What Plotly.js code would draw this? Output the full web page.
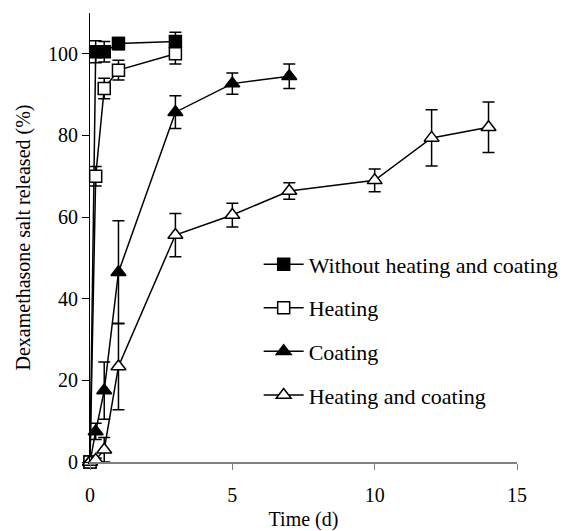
<!DOCTYPE html>
<html>
<head>
<meta charset="utf-8">
<script src="https://cdn.plot.ly/plotly-3.0.1.min.js"></script>
<style>html,body{margin:0;padding:0;background:#fff;}#chart{width:566px;height:531px;}</style>
</head>
<body>
<div id="chart"></div>
<script>
// Time points (days)
const tShort = [0, 0.2, 0.5, 1, 3];
const tCoat = [0, 0.2, 0.5, 1, 3, 5, 7];
const tHeatCoat = [0, 0.2, 0.5, 1, 3, 5, 7, 10, 12, 14];

// Release (%) and standard deviations
const noHeatVals = [0, 100.5, 100.5, 102.5, 103];
const noHeatErr  = [0, 2.7, 2.5, 1.5, 2.3];
const heatVals   = [0, 70, 91.5, 96, 100];
const heatErr    = [0, 2.4, 2.5, 2.4, 2.5];
const coatVals   = [0, 7.5, 17.5, 46.5, 85.7, 92.7, 94.5];
const coatErr    = [0, 2, 7, 12.6, 4, 2.6, 3];
const hcVals     = [0, 0.5, 3, 23.4, 55.6, 60.5, 66.4, 69, 79.4, 82];
const hcErr      = [0, 0.5, 3, 10.6, 5.3, 2.9, 2, 2.8, 6.9, 6.2];

const names = ['Without heating and coating', 'Heating', 'Coating', 'Heating and coating'];

const FONT = "'Liberation Serif', 'Times New Roman', serif";

function mk(x, y, e, name, symbol, fill, size, grp) {
  return {
    x: x, y: y, name: name, type: 'scatter', mode: 'lines+markers',
    legendgroup: grp,
    line: {color: '#000', width: 1.5},
    marker: {symbol: symbol, size: size, color: fill, line: {color: '#000', width: 1.5}},
    error_y: {type: 'data', array: e, visible: true, color: '#000', thickness: 1.5, width: 6},
    cliponaxis: false
  };
}

const data = [
  mk(tShort, noHeatVals, noHeatErr, names[0], 'square', '#000', 12, 'a'),
  mk(tShort, heatVals, heatErr, names[1], 'square', '#fff', 12, 'b'),
  mk(tCoat, coatVals, coatErr, names[2], 'triangle-up', '#000', 13, 'c'),
  mk(tHeatCoat, hcVals, hcErr, names[3], 'triangle-up', '#fff', 13, 'd')
];

const layout = {
  width: 566, height: 531,
  margin: {l: 90, r: 49, t: 13, b: 69, autoexpand: false},
  paper_bgcolor: '#fff', plot_bgcolor: '#fff',
  font: {family: FONT, size: 20, color: '#000'},
  showlegend: true,
  legend: {
    x: 0.395, y: 0.487, xanchor: 'left', yanchor: 'top',
    font: {family: FONT, size: 22, color: '#000'},
    tracegroupgap: 12, itemwidth: 40,
    bgcolor: 'rgba(0,0,0,0)'
  },
  xaxis: {
    range: [0, 15], tickvals: [0, 5, 10, 15], ticktext: ['0', '5', '10', '15'],
    showgrid: false, zeroline: false, showline: true, linecolor: '#808080', linewidth: 1.5,
    ticks: 'outside', ticklen: 6, tickcolor: '#808080', tickwidth: 1,
    ticklabelstandoff: 8, automargin: false,
    tickfont: {family: FONT, size: 20}, fixedrange: true,
    title: {text: 'Time (d)', font: {family: FONT, size: 20}, standoff: 13}
  },
  yaxis: {
    range: [0, 110], tickvals: [0, 20, 40, 60, 80, 100],
    showgrid: false, zeroline: false, showline: true, linecolor: '#000', linewidth: 1,
    ticks: 'outside', ticklen: 7, tickcolor: '#000', tickwidth: 1,
    automargin: false,
    tickfont: {family: FONT, size: 20}, fixedrange: true,
    title: {text: 'Dexamethasone salt released (%)', font: {family: FONT, size: 20}, standoff: 12}
  }
};

Plotly.newPlot('chart', data, layout, {displayModeBar: false, staticPlot: true});
</script>
</body>
</html>
